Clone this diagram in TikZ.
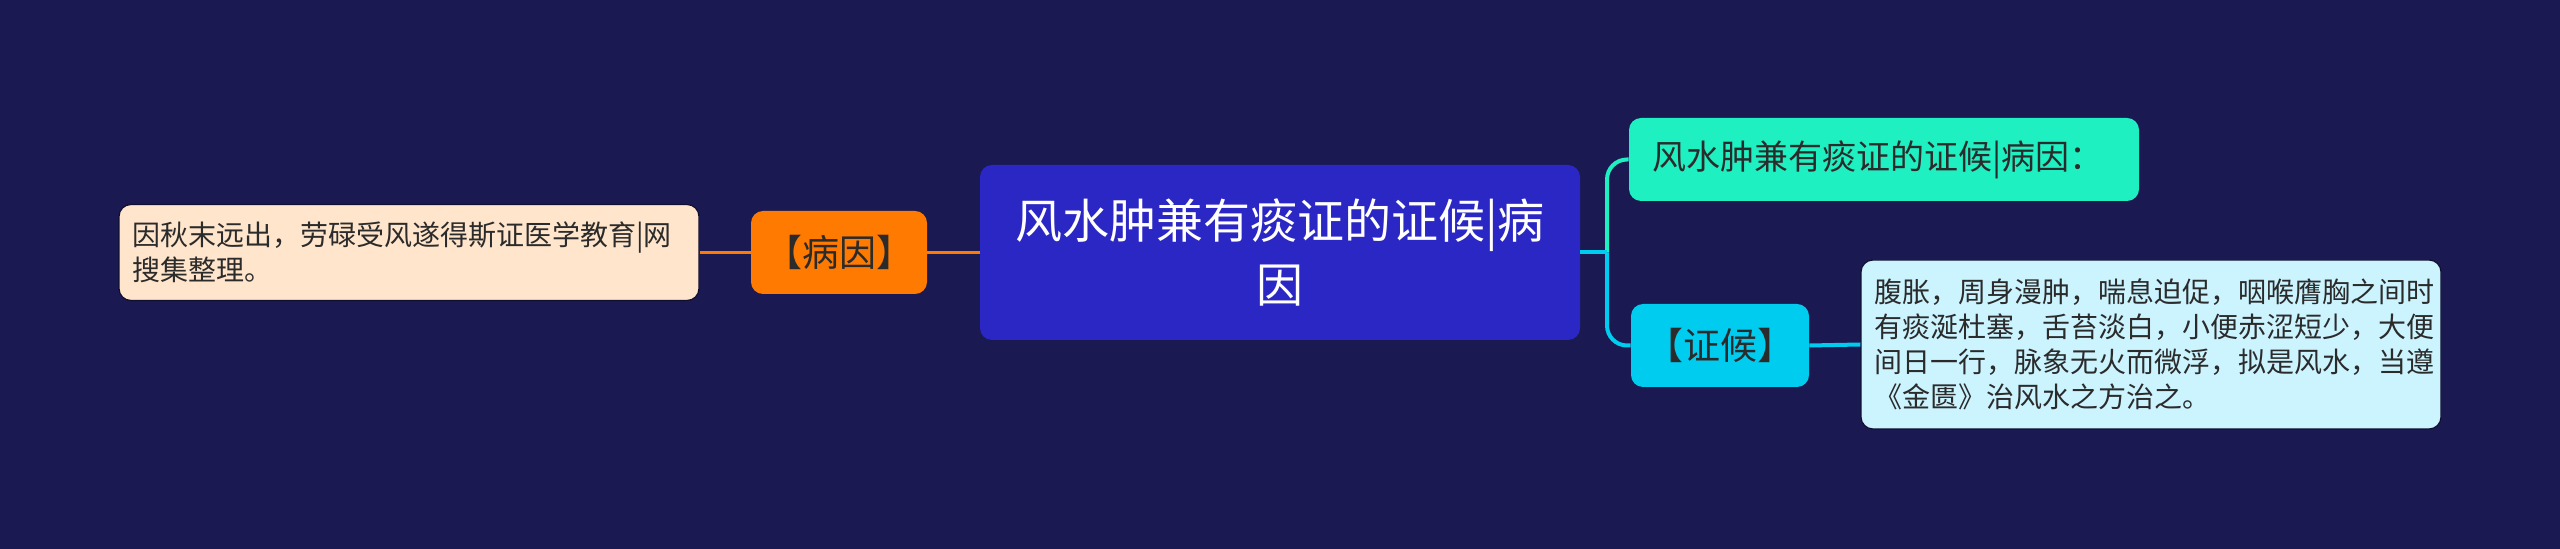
\documentclass[tikz,border=0pt]{standalone}
\usepackage{fontspec}
\setmainfont{Noto Sans CJK SC}
\usetikzlibrary{positioning}

\definecolor{bgnavy}{HTML}{1B1952}
\definecolor{rootblue}{HTML}{2A27C4}
\definecolor{causeorange}{HTML}{FF7A00}
\definecolor{causeleaf}{HTML}{FFE5CC}
\definecolor{signteal}{HTML}{1EF0C2}
\definecolor{signcyan}{HTML}{00CCF0}
\definecolor{signleaf}{HTML}{CCF4FF}
\definecolor{darktext}{HTML}{2B2B2B}

\begin{document}
\begin{tikzpicture}[x=0.5pt,y=-0.5pt]
	\tikzstyle{every node}+=[inner sep=0pt]
	\tikzstyle{card}=[rectangle, rounded corners=6pt, text=darktext]
	\tikzstyle{rootcard}=[card, fill=rootblue, text=white, minimum width=300pt, minimum height=87.5pt, align=center, font=\fontsize{23.5pt}{32pt}\selectfont]
	\tikzstyle{tagcard}=[card, minimum height=41.5pt, font=\fontsize{17pt}{20pt}\selectfont]
	\tikzstyle{bracketcard}=[tagcard, font=\fontsize{18.5pt}{20pt}\selectfont]
	\tikzstyle{leafcard}=[card, draw=bgnavy!60!black, line width=0.6pt, align=left, inner xsep=6.5pt, font=\fontsize{14pt}{17.6pt}\selectfont]
	\tikzstyle{orangelink}=[draw=causeorange, line width=1.6pt]
	\tikzstyle{cyanlink}=[draw=signcyan, line width=2pt, rounded corners=10pt]
	\tikzstyle{teallink}=[draw=signteal, line width=2pt, rounded corners=10pt]
	\fill [bgnavy] (0,0) rectangle (2560,549);
	\useasboundingbox (0,0) rectangle (2560,549);
	\node [rootcard] (root) at (1280,252.5) {风水肿兼有痰证的证候|病\\因};
	\node [bracketcard, fill=causeorange, minimum width=88pt] (cause) at (839,252.5) {【病因】};
	\node [leafcard, fill=causeleaf, text width=277pt, minimum height=48pt] (causetext) at (409,252.5) {因秋末远出，劳碌受风遂得斯证医学教育|网\\搜集整理。};
	\node [tagcard, fill=signteal, minimum width=255pt, align=left, text width=232pt] (summary) at (1884,159.5) {风水肿兼有痰证的证候|病因：};
	\node [bracketcard, fill=signcyan, minimum width=89pt] (sign) at (1720,345.5) {【证候】};
	\node [leafcard, fill=signleaf, text width=277pt, minimum height=84.5pt] (signtext) at (2151,344.5) {腹胀，周身漫肿，喘息迫促，咽喉膺胸之间时\\有痰涎杜塞，舌苔淡白，小便赤涩短少，大便\\间日一行，脉象无火而微浮，拟是风水，当遵\\《金匮》治风水之方治之。};
	\coordinate (fork) at (1607,252.5);
	\draw [orangelink] (causetext.east) -- (cause.west);
	\draw [orangelink] (cause.east) -- (root.west);
	\draw [teallink] (fork) |- (summary.west);
	\draw [cyanlink] (fork) |- (sign.west);
	\draw [cyanlink] (root.east) -- (fork);
	\draw [cyanlink] (sign.east) -- (signtext.west);
\end{tikzpicture}
\end{document}
